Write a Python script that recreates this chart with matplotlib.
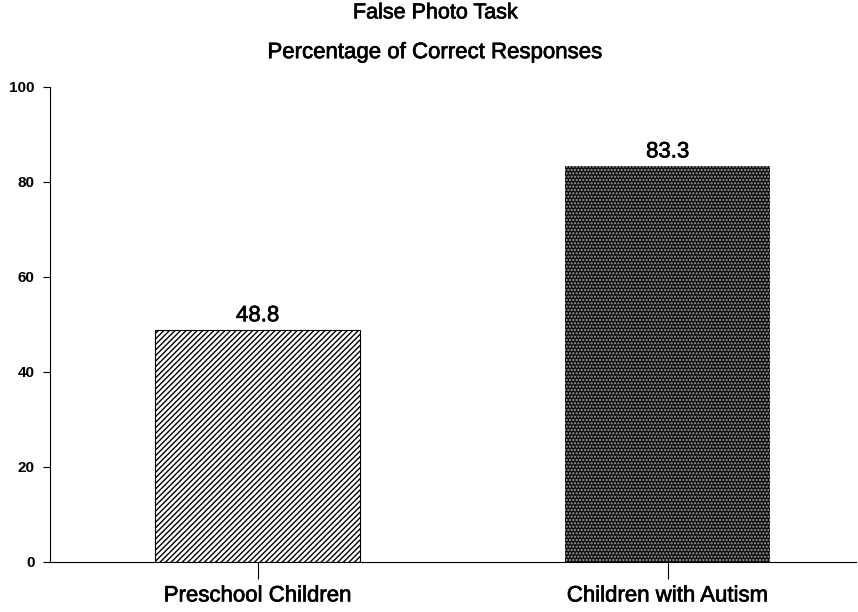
import matplotlib
matplotlib.use('Agg')
import matplotlib.pyplot as plt
import matplotlib.patheffects as pe

groups = ['Preschool Children', 'Children with Autism']
pct_correct = [48.8, 83.3]
y_ticks = [0, 20, 40, 60, 80, 100]

plt.rcParams['font.family'] = ['Liberation Sans', 'DejaVu Sans']
plt.rcParams['hatch.linewidth'] = 1.0

# slightly heavier strokes on the text, like a photocopied figure
thick = [pe.withStroke(linewidth=0.5, foreground='black')]

fig = plt.figure(figsize=(8.58, 6.12), dpi=100)
ax = fig.add_axes([0.058, 0.082, 0.94, 0.776])

xs = range(len(groups))
bars = ax.bar(xs, pct_correct, width=0.5, color=['white', '#111111'],
              edgecolor='black', linewidth=0.8)
bars[0].set_hatch('//////')
bars[1].set_hatch('.....')
bars[1].set_edgecolor('#a0a0a0')
bars[1].set_linewidth(0)

for b, v in zip(bars, pct_correct):
    ax.text(b.get_x() + b.get_width() / 2, v + 0.8, f'{v:.1f}',
            ha='center', va='bottom', fontsize=16, path_effects=thick)

ax.set_xlim(-0.507, 1.46)
ax.set_ylim(0, 100)
ax.set_yticks(y_ticks)
ax.set_yticklabels([str(t) for t in y_ticks], fontsize=11, fontweight='bold')
ax.set_xticks(list(xs))
ax.set_xticklabels(groups, fontsize=16, path_effects=thick)
ax.tick_params(axis='x', length=12, pad=5)
ax.tick_params(axis='y', length=5, pad=6)

for s in ['top', 'right']:
    ax.spines[s].set_visible(False)
ax.spines['left'].set_linewidth(0.8)
ax.spines['bottom'].set_linewidth(0.8)

fig.text(0.507, 0.979, 'False Photo Task', ha='center', va='center',
         fontsize=15.5, path_effects=thick)
fig.text(0.507, 0.914, 'Percentage of Correct Responses', ha='center', va='center',
         fontsize=16, path_effects=thick)

fig.savefig('out.png', dpi=100)
